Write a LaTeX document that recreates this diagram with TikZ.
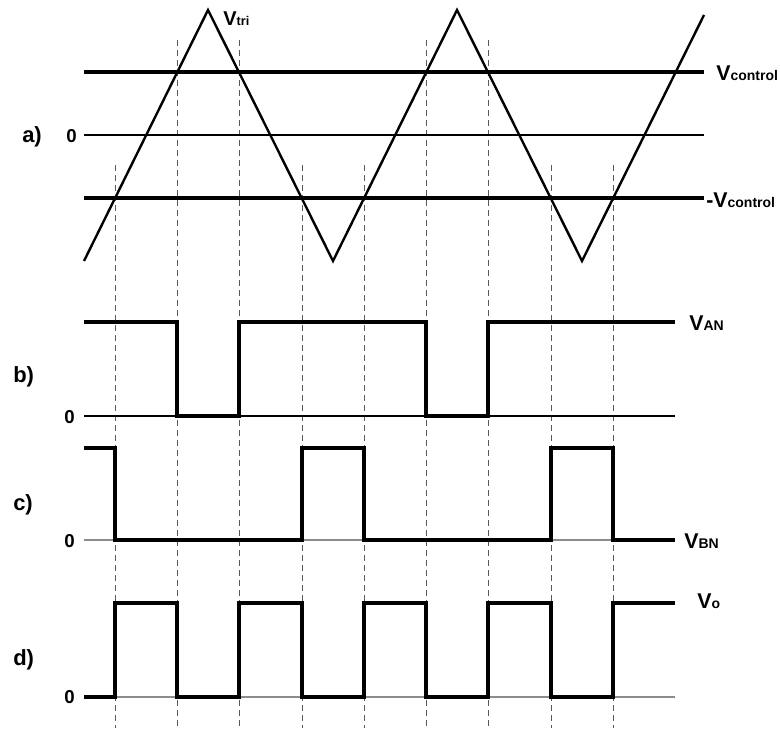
\documentclass[tikz,border=0pt]{standalone}
\usepackage{fontspec}
\setmainfont{Liberation Sans}
\usepackage{tikz}

\newcommand{\vlab}[3][16]{{\fontsize{#1}{#1}\selectfont V}{\fontsize{#2}{#2}\selectfont #3}}

\begin{document}
\begin{tikzpicture}[
    x=0.75pt, y=-0.75pt,
    every node/.style={inner sep=0pt, font=\bfseries},
    ctrl/.style={line width=2.6pt},
    tri/.style={line width=1.8pt, line join=miter},
    wave/.style={line width=2.6pt, line join=miter},
    zero/.style={line width=0.9pt},
    greyzero/.style={line width=0.9pt, black!45},
    guide/.style={line width=0.7pt, black!65, dash pattern=on 4.5pt off 3pt},
    tag/.style={anchor=base west, font=\fontsize{16.5}{17}\selectfont\bfseries},
    num/.style={anchor=base west, font=\fontsize{14}{14}\selectfont\bfseries},
    sig/.style={anchor=base west},
]
\useasboundingbox (0,0) rectangle (780,728);

% ── crossing guides ──
\foreach \x in {177,239,426,488}
    \draw[guide] (\x,40) -- (\x,728);
\foreach \x in {115,302,364,551,613}
    \draw[guide] (\x,165) -- (\x,728);

% ── a) carrier and control ──
\draw[zero] (84,135) -- (704,135);
\draw[ctrl] (84,72) -- (704,72);
\draw[ctrl] (84,198) -- (704,198);
\draw[tri] (84,261) -- (208,10) -- (333,261) -- (457,10) -- (582,261) -- (704,15);

\node[tag] (taga) at (22,142) {a)};
\node[num] (zeroa) at (66,142) {0};
\node[sig] (vtri) at (223,26) {\vlab[15]{9.5}{tri}};
\node[sig] (vctrl) at (716,80) {\vlab{10.5}{control}};
\node[sig] (vnctrl) at (706,207) {{\fontsize{16}{16}\selectfont -}\vlab{10.5}{control}};

% ── b) V_AN ──
\draw[zero] (84,416) -- (675,416);
\draw[wave] (84,322) -- (177,322) -- (177,416) -- (239,416) -- (239,322)
    -- (426,322) -- (426,416) -- (488,416) -- (488,322) -- (675,322);

\node[tag] (tagb) at (13,382) {b)};
\node[num] (zerob) at (64,423) {0};
\node[sig] (van) at (689,330) {\vlab{10.5}{AN}};

% ── c) V_BN ──
\draw[greyzero] (84,540) -- (675,540);
\draw[wave] (84,448) -- (115,448) -- (115,540) -- (302,540) -- (302,448)
    -- (364,448) -- (364,540) -- (551,540) -- (551,448) -- (613,448)
    -- (613,540) -- (675,540);

\node[tag] (tagc) at (13,510) {c)};
\node[num] (zeroc) at (64,547) {0};
\node[sig] (vbn) at (684,548) {\vlab{10.5}{BN}};

% ── d) V_o ──
\draw[greyzero] (84,697) -- (675,697);
\draw[wave] (84,697) -- (115,697) -- (115,603) -- (177,603) -- (177,697)
    -- (239,697) -- (239,603) -- (302,603) -- (302,697) -- (364,697)
    -- (364,603) -- (426,603) -- (426,697) -- (488,697) -- (488,603)
    -- (551,603) -- (551,697) -- (613,697) -- (613,603) -- (675,603);

\node[tag] (tagd) at (13,665) {d)};
\node[num] (zerod) at (64,703) {0};
\node[sig] (vo) at (697,608) {\vlab{10.5}{o}};

\end{tikzpicture}
\end{document}
